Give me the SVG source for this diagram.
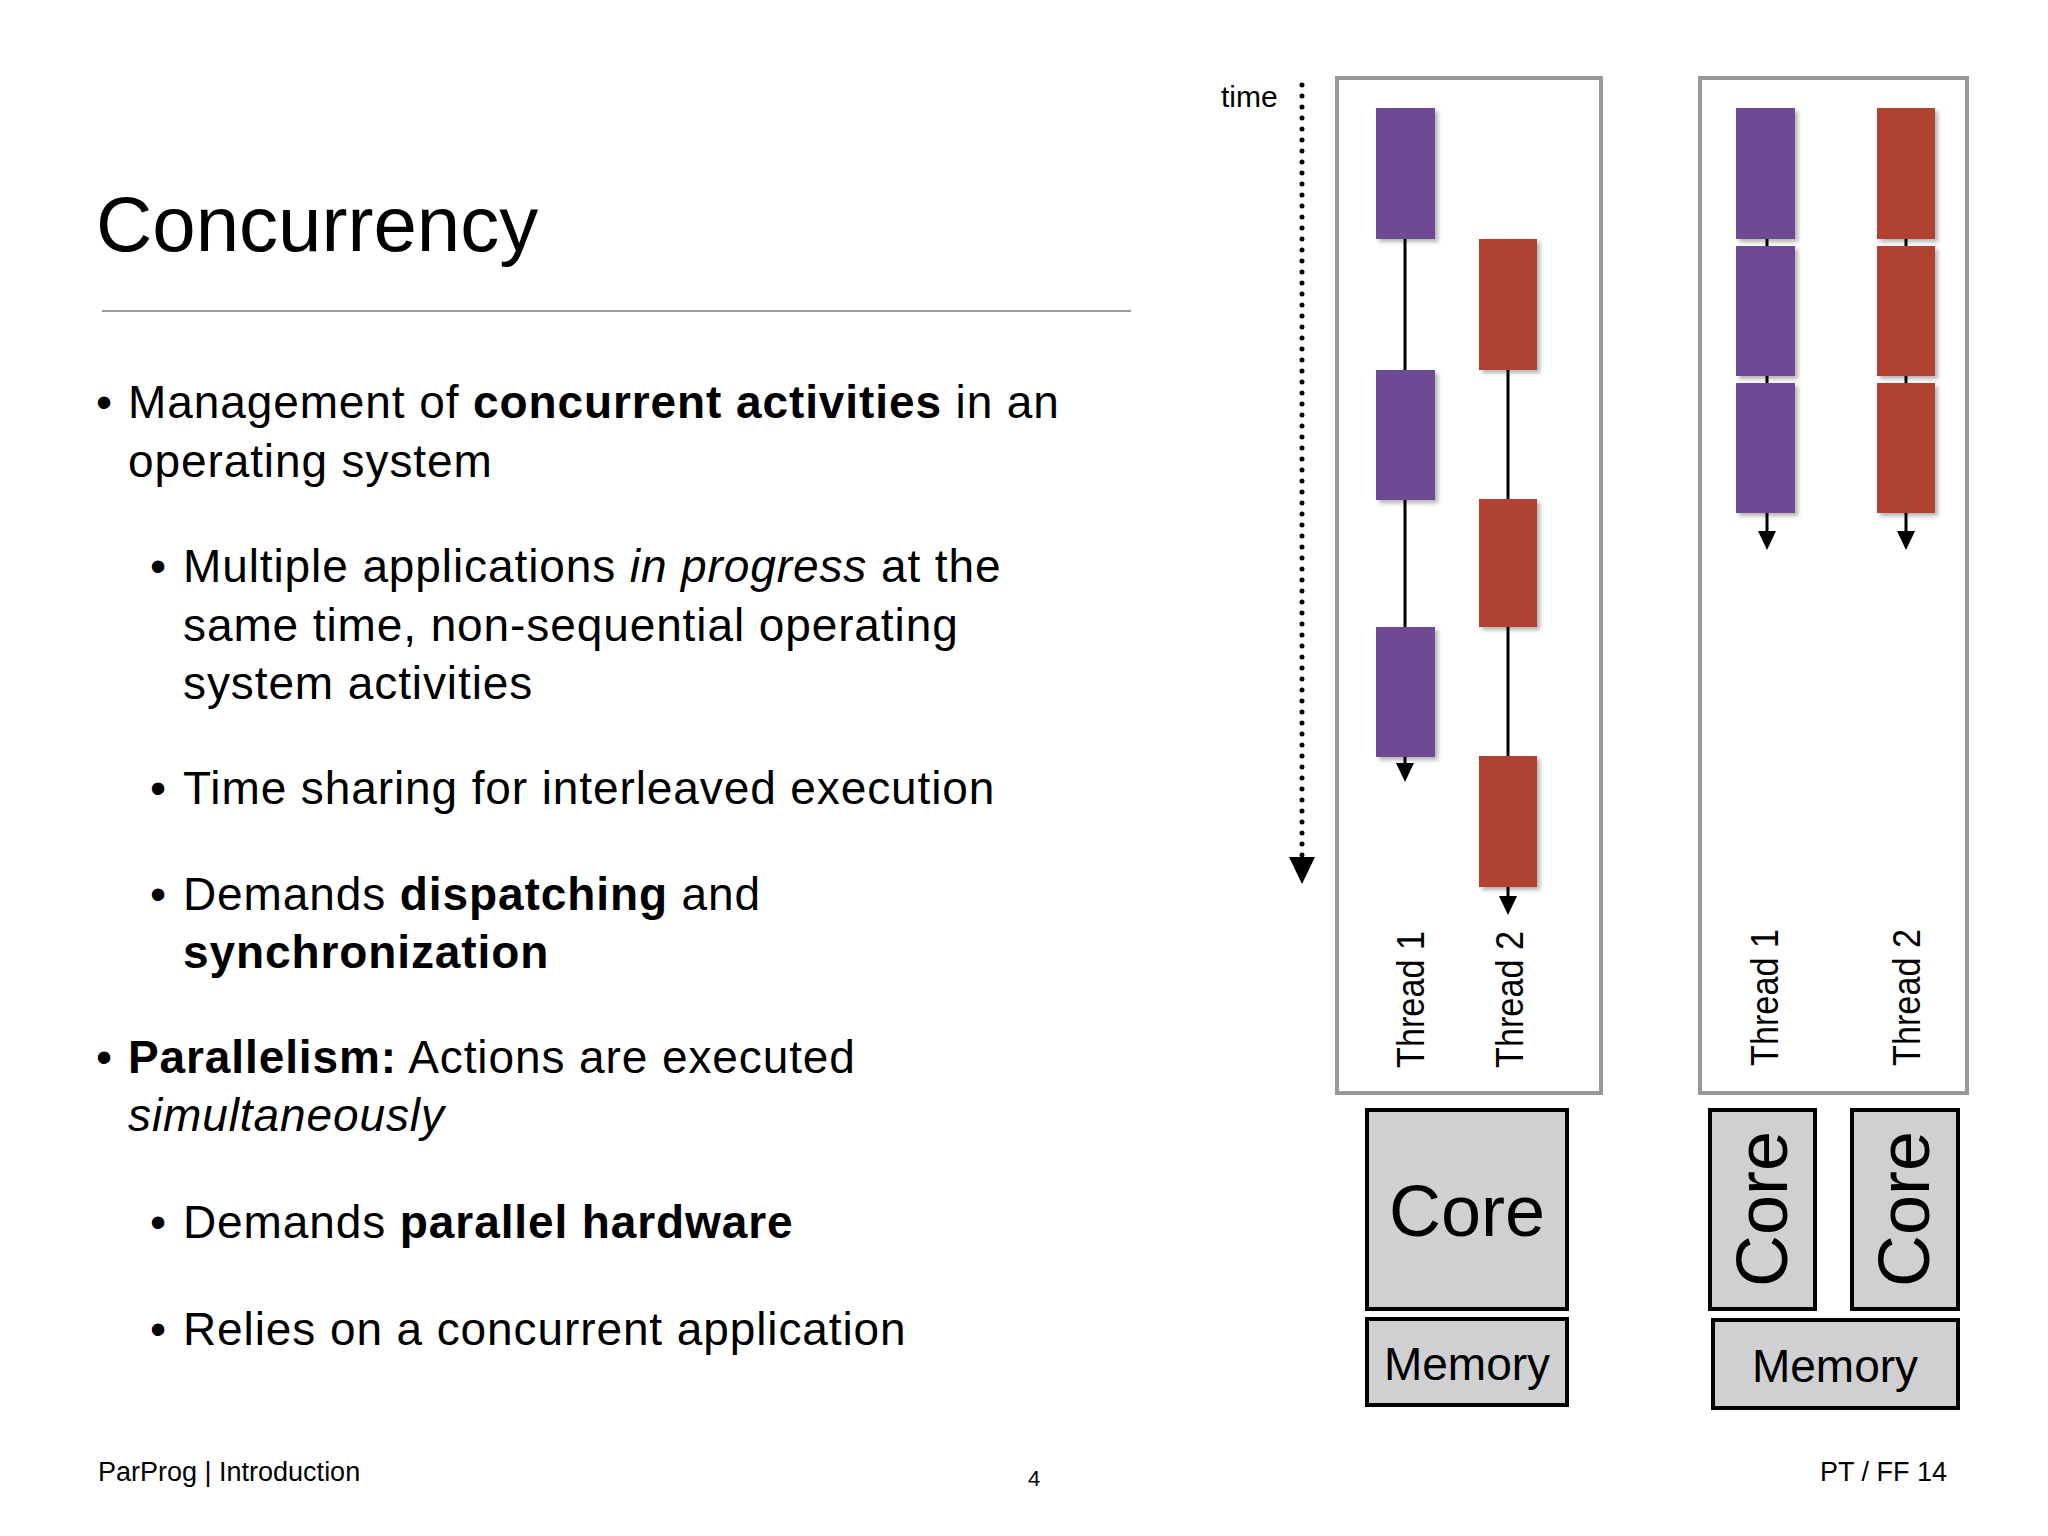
<svg xmlns="http://www.w3.org/2000/svg" width="2048" height="1536" viewBox="0 0 2048 1536">
<style>
text{font-family:"Liberation Sans",Arial,sans-serif;fill:#000}
.b{font-size:46px;letter-spacing:0.9px}
.bold{font-weight:bold}
.frame{fill:#fff;stroke:#999;stroke-width:4}
.pu{fill:#6e4a94}
.rd{fill:#b04232}
.hw{fill:#d0d0d2;stroke:#000;stroke-width:4}
.ln{stroke:#000;stroke-width:3;fill:none}
.th{font-size:38px}
</style>
<defs>
<filter id="sh" x="-20%" y="-20%" width="150%" height="150%"><feDropShadow dx="3" dy="3" stdDeviation="2" flood-opacity="0.3"/></filter>
</defs>
<rect width="2048" height="1536" fill="#fff"/>
<g id="title">
<text x="96" y="251" font-size="78">Concurrency</text>
<line x1="102" y1="311" x2="1131" y2="311" stroke="#999" stroke-width="2"/>
</g>
<g id="bullets">
<text x="96" y="418" class="b">•</text>
<text x="128" y="418" class="b">Management of <tspan class="bold">concurrent activities</tspan> in an</text>
<text x="128" y="477" class="b">operating system</text>
<text x="150" y="582" class="b">•</text>
<text x="183" y="582" class="b">Multiple applications <tspan font-style="italic">in progress</tspan> at the</text>
<text x="183" y="641" class="b">same time, non-sequential operating</text>
<text x="183" y="699" class="b">system activities</text>
<text x="150" y="804" class="b">•</text>
<text x="183" y="804" class="b">Time sharing for interleaved execution</text>
<text x="150" y="910" class="b">•</text>
<text x="183" y="910" class="b">Demands <tspan class="bold">dispatching</tspan> and</text>
<text x="183" y="968" class="b bold">synchronization</text>
<text x="96" y="1073" class="b">•</text>
<text x="128" y="1073" class="b"><tspan class="bold">Parallelism:</tspan> Actions are executed</text>
<text x="128" y="1131" class="b" font-style="italic">simultaneously</text>
<text x="150" y="1238" class="b">•</text>
<text x="183" y="1238" class="b">Demands <tspan class="bold">parallel hardware</tspan></text>
<text x="150" y="1345" class="b">•</text>
<text x="183" y="1345" class="b">Relies on a concurrent application</text>
</g>
<g id="footer">
<text x="98" y="1481" font-size="27">ParProg | Introduction</text>
<text x="1034" y="1486" font-size="22" text-anchor="middle">4</text>
<text x="1947" y="1481" font-size="27" text-anchor="end">PT / FF 14</text>
</g>
<g id="time">
<text x="1221" y="107" font-size="30">time</text>
<line x1="1302" y1="85" x2="1302" y2="860" stroke="#000" stroke-width="5" stroke-dasharray="0 11" stroke-linecap="round"/>
<path d="M1289,857 L1315,857 L1302,884z" fill="#000"/>
</g>
<g id="frame-left"><rect class="frame" x="1337" y="78" width="264" height="1015"/></g>
<g id="frame-right"><rect class="frame" x="1700" y="78" width="267" height="1015"/></g>
<g id="connectors">
<line class="ln" x1="1405" y1="170" x2="1405" y2="770"/>
<path d="M1396,763 L1414,763 L1405,782z"/>
<line class="ln" x1="1508" y1="300" x2="1508" y2="903"/>
<path d="M1499,896 L1517,896 L1508,915z"/>
<line class="ln" x1="1767" y1="170" x2="1767" y2="538"/>
<path d="M1758,531 L1776,531 L1767,550z"/>
<line class="ln" x1="1906" y1="170" x2="1906" y2="538"/>
<path d="M1897,531 L1915,531 L1906,550z"/>
</g>
<g id="thread1-left" filter="url(#sh)">
<rect class="pu" x="1376" y="108" width="59" height="131"/>
<rect class="pu" x="1376" y="370" width="59" height="130"/>
<rect class="pu" x="1376" y="627" width="59" height="130"/>
</g>
<g id="thread2-left" filter="url(#sh)">
<rect class="rd" x="1479" y="239" width="58" height="131"/>
<rect class="rd" x="1479" y="499" width="58" height="128"/>
<rect class="rd" x="1479" y="756" width="58" height="131"/>
</g>
<g id="thread1-right" filter="url(#sh)">
<rect class="pu" x="1736" y="108" width="59" height="131"/>
<rect class="pu" x="1736" y="246" width="59" height="130"/>
<rect class="pu" x="1736" y="383" width="59" height="130"/>
</g>
<g id="thread2-right" filter="url(#sh)">
<rect class="rd" x="1877" y="108" width="58" height="131"/>
<rect class="rd" x="1877" y="246" width="58" height="130"/>
<rect class="rd" x="1877" y="383" width="58" height="130"/>
</g>
<g id="labels">
<text class="th" transform="translate(1424,1068) rotate(-90)" textLength="137" lengthAdjust="spacingAndGlyphs">Thread 1</text>
<text class="th" transform="translate(1523,1068) rotate(-90)" textLength="137" lengthAdjust="spacingAndGlyphs">Thread 2</text>
<text class="th" transform="translate(1778,1066) rotate(-90)" textLength="137" lengthAdjust="spacingAndGlyphs">Thread 1</text>
<text class="th" transform="translate(1920,1066) rotate(-90)" textLength="137" lengthAdjust="spacingAndGlyphs">Thread 2</text>
</g>
<g id="core-left"><rect class="hw" x="1367" y="1110" width="200" height="199"/><text x="1467" y="1236" font-size="72" text-anchor="middle">Core</text></g>
<g id="memory-left"><rect class="hw" x="1367" y="1319" width="200" height="86"/><text x="1467" y="1380" font-size="46" text-anchor="middle">Memory</text></g>
<g id="core-right-1"><rect class="hw" x="1710" y="1110" width="105" height="199"/><text transform="translate(1787,1209) rotate(-90)" font-size="72" text-anchor="middle">Core</text></g>
<g id="core-right-2"><rect class="hw" x="1852" y="1110" width="106" height="199"/><text transform="translate(1929,1209) rotate(-90)" font-size="72" text-anchor="middle">Core</text></g>
<g id="memory-right"><rect class="hw" x="1713" y="1320" width="245" height="88"/><text x="1835" y="1382" font-size="46" text-anchor="middle">Memory</text></g>
</svg>
